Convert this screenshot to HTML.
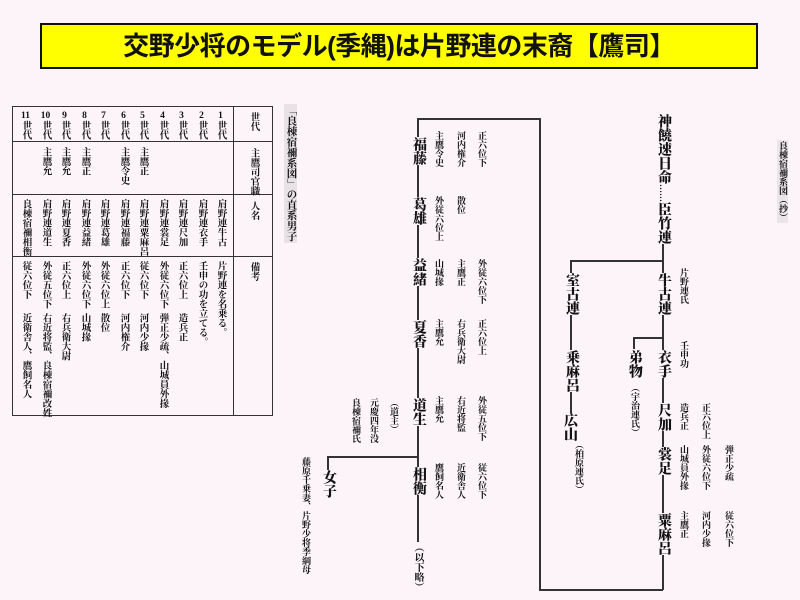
<!DOCTYPE html>
<html><head><meta charset="utf-8">
<style>
html,body{margin:0;padding:0}
body{width:800px;height:600px;background:#fcf4f9;position:relative;overflow:hidden;font-family:"Liberation Serif","Noto Serif CJK SC","Noto Sans CJK JP",serif;color:#111}
.title{position:absolute;left:40px;top:23px;width:718px;height:46px;background:#ffff00;border:2px solid #111;box-sizing:border-box;text-align:center;font-family:"Liberation Sans","Noto Sans CJK JP",sans-serif;font-weight:bold;font-size:26px;line-height:42px;letter-spacing:-0.5px}
.v{position:absolute;writing-mode:vertical-rl;line-height:1;white-space:nowrap}
.n{font-size:14px;font-weight:900;background:#fcf4f9}
.a{font-size:9px;font-weight:bold}
.t{font-size:9.5px;font-weight:bold}
.tcu{text-combine-upright:all}
.ln{position:absolute;background:#333}
.dots{font-size:9px}
</style></head><body>
<div class="title">交野少将のモデル(季縄)は片野連の末裔【鷹司】</div>

<!-- table -->
<div style="position:absolute;left:12px;top:106px;width:261px;height:310px;border:1.5px solid #333;box-sizing:border-box"></div>
<div class="ln" style="left:233px;top:106px;width:1px;height:310px"></div>
<div class="ln" style="left:12px;top:141px;width:261px;height:1px"></div>
<div class="ln" style="left:12px;top:194px;width:261px;height:1px"></div>
<div class="ln" style="left:12px;top:256px;width:261px;height:1px"></div>
<div class="v t" style="left:248px;top:112px">世代</div>
<div class="v t" style="left:248px;top:148px">主鷹司官職</div>
<div class="v t" style="left:248px;top:201px">人名</div>
<div class="v t" style="left:248px;top:262px">備考</div>

<div class="v t" style="left:215px;top:111px"><span class="tcu">1</span>世代</div>
<div class="v t" style="left:196px;top:111px"><span class="tcu">2</span>世代</div>
<div class="v t" style="left:176px;top:111px"><span class="tcu">3</span>世代</div>
<div class="v t" style="left:157px;top:111px"><span class="tcu">4</span>世代</div>
<div class="v t" style="left:137px;top:111px"><span class="tcu">5</span>世代</div>
<div class="v t" style="left:118px;top:111px"><span class="tcu">6</span>世代</div>
<div class="v t" style="left:98px;top:111px"><span class="tcu">7</span>世代</div>
<div class="v t" style="left:79px;top:111px"><span class="tcu">8</span>世代</div>
<div class="v t" style="left:59px;top:111px"><span class="tcu">9</span>世代</div>
<div class="v t" style="left:40px;top:111px"><span class="tcu">10</span>世代</div>
<div class="v t" style="left:20px;top:111px"><span class="tcu">11</span>世代</div>

<div class="v t" style="left:137px;top:147px">主鷹正</div>
<div class="v t" style="left:118px;top:147px">主鷹令史</div>
<div class="v t" style="left:79px;top:147px">主鷹正</div>
<div class="v t" style="left:59px;top:147px">主鷹允</div>
<div class="v t" style="left:40px;top:147px">主鷹允</div>

<div class="v t" style="left:215px;top:199px">肩野連牛古</div>
<div class="v t" style="left:196px;top:199px">肩野連衣手</div>
<div class="v t" style="left:176px;top:199px">肩野連尺加</div>
<div class="v t" style="left:157px;top:199px">肩野連裳足</div>
<div class="v t" style="left:137px;top:199px">肩野連粟麻呂</div>
<div class="v t" style="left:118px;top:199px">肩野連福藤</div>
<div class="v t" style="left:98px;top:199px">肩野連葛雄</div>
<div class="v t" style="left:79px;top:199px">肩野連益緒</div>
<div class="v t" style="left:59px;top:199px">肩野連夏香</div>
<div class="v t" style="left:40px;top:199px">肩野連道生</div>
<div class="v t" style="left:20px;top:199px">良棟宿禰相衡</div>

<div class="v t" style="left:215px;top:261px">片野連を名乗る。</div>
<div class="v t" style="left:196px;top:261px">壬申の功を立てる。</div>
<div class="v t" style="left:176px;top:261px">正六位上</div>
<div class="v t" style="left:176px;top:313px">造兵正</div>
<div class="v t" style="left:157px;top:261px">外従六位下</div>
<div class="v t" style="left:157px;top:313px">弾正少疏、山城員外掾</div>
<div class="v t" style="left:137px;top:261px">従六位下</div>
<div class="v t" style="left:137px;top:313px">河内少掾</div>
<div class="v t" style="left:118px;top:261px">正六位下</div>
<div class="v t" style="left:118px;top:313px">河内権介</div>
<div class="v t" style="left:98px;top:261px">外従六位上</div>
<div class="v t" style="left:98px;top:313px">散位</div>
<div class="v t" style="left:79px;top:261px">外従六位下</div>
<div class="v t" style="left:79px;top:313px">山城掾</div>
<div class="v t" style="left:59px;top:261px">正六位上</div>
<div class="v t" style="left:59px;top:313px">右兵衛大尉</div>
<div class="v t" style="left:40px;top:261px">外従五位下</div>
<div class="v t" style="left:40px;top:313px">右近将監、良棟宿禰改姓</div>
<div class="v t" style="left:20px;top:261px">従六位下</div>
<div class="v t" style="left:20px;top:313px">近衛舎人、鷹飼名人</div>

<!-- captions -->
<div class="v t" style="left:284px;top:104px;font-size:10.5px;background:#e8e2e6;padding:1px">「良棟宿禰系図」の直系男子</div>
<div class="v t" style="left:777px;top:140px;font-size:9px;background:#ebe5e9;padding:1px">良棟宿禰系図（抄）</div>

<!-- middle tree lines -->
<div class="ln" style="left:417px;top:118px;width:1.5px;height:447px"></div>
<div class="ln" style="left:417px;top:118px;width:124px;height:1.5px"></div>
<div class="ln" style="left:539px;top:118px;width:1.5px;height:472px"></div>
<div class="ln" style="left:539px;top:589px;width:124px;height:1.5px"></div>
<div class="ln" style="left:327px;top:456px;width:91px;height:1.5px"></div>
<div class="ln" style="left:327px;top:456px;width:1.5px;height:14px"></div>

<div class="v n" style="left:411px;top:137px">福藤</div>
<div class="v n" style="left:411px;top:197px">葛雄</div>
<div class="v n" style="left:411px;top:258px">益緒</div>
<div class="v n" style="left:411px;top:320px">夏香</div>
<div class="v n" style="left:411px;top:398px">道生</div>
<div class="v n" style="left:411px;top:467px">相衡</div>
<div class="v a" style="left:412px;top:542px;font-size:10px;background:#fcf4f9">（以下略）</div>
<div class="v n" style="left:321px;top:470px">女子</div>
<div class="v a" style="left:301px;top:457px">藤原千乗妻、片野少将季綱母</div>

<div class="v a" style="left:434px;top:131px">主鷹令史</div>
<div class="v a" style="left:456px;top:131px">河内権介</div>
<div class="v a" style="left:477px;top:131px">正六位下</div>
<div class="v a" style="left:434px;top:196px">外従六位上</div>
<div class="v a" style="left:456px;top:196px">散位</div>
<div class="v a" style="left:434px;top:259px">山城掾</div>
<div class="v a" style="left:456px;top:259px">主鷹正</div>
<div class="v a" style="left:477px;top:259px">外従六位下</div>
<div class="v a" style="left:434px;top:319px">主鷹允</div>
<div class="v a" style="left:456px;top:319px">右兵衛大尉</div>
<div class="v a" style="left:477px;top:319px">正六位上</div>
<div class="v a" style="left:434px;top:396px">主鷹允</div>
<div class="v a" style="left:456px;top:396px">右近将監</div>
<div class="v a" style="left:477px;top:396px">外従五位下</div>
<div class="v a" style="left:434px;top:463px">鷹飼名人</div>
<div class="v a" style="left:456px;top:463px">近衛舎人</div>
<div class="v a" style="left:477px;top:463px">従六位下</div>
<div class="v a" style="left:389px;top:398px">（道主）</div>
<div class="v a" style="left:369px;top:398px">元慶四年没</div>
<div class="v a" style="left:351px;top:398px">良棟宿禰氏</div>

<!-- right tree lines -->
<div class="ln" style="left:662px;top:230px;width:1.5px;height:360px"></div>
<div class="ln" style="left:570px;top:260px;width:93px;height:1.5px"></div>
<div class="ln" style="left:570px;top:260px;width:1.5px;height:180px"></div>
<div class="ln" style="left:633px;top:337px;width:30px;height:1.5px"></div>
<div class="ln" style="left:633px;top:337px;width:1.5px;height:12px"></div>

<div class="v n" style="left:656px;top:114px">神饒速日命<span class="dots">……</span>臣竹連</div>
<div class="v n" style="left:564px;top:273px">室古連</div>
<div class="v n" style="left:564px;top:350px">乗麻呂</div>
<div class="v n" style="left:562px;top:413px">広山</div>
<div class="v a" style="left:574px;top:440px">（柏原連氏）</div>
<div class="v n" style="left:656px;top:273px">牛古連</div>
<div class="v a" style="left:679px;top:268px">片野連氏</div>
<div class="v n" style="left:627px;top:350px">弟物</div>
<div class="v a" style="left:630px;top:383px">（宇治連氏）</div>
<div class="v n" style="left:656px;top:350px">衣手</div>
<div class="v a" style="left:679px;top:341px">壬申功</div>
<div class="v n" style="left:656px;top:403px">尺加</div>
<div class="v a" style="left:679px;top:403px">造兵正</div>
<div class="v a" style="left:701px;top:403px">正六位上</div>
<div class="v n" style="left:656px;top:447px">裳足</div>
<div class="v a" style="left:679px;top:445px">山城員外掾</div>
<div class="v a" style="left:701px;top:445px">外従六位下</div>
<div class="v a" style="left:724px;top:445px">弾正少疏</div>
<div class="v n" style="left:656px;top:513px">粟麻呂</div>
<div class="v a" style="left:679px;top:511px">主鷹正</div>
<div class="v a" style="left:701px;top:511px">河内少掾</div>
<div class="v a" style="left:724px;top:511px">従六位下</div>
</body></html>
